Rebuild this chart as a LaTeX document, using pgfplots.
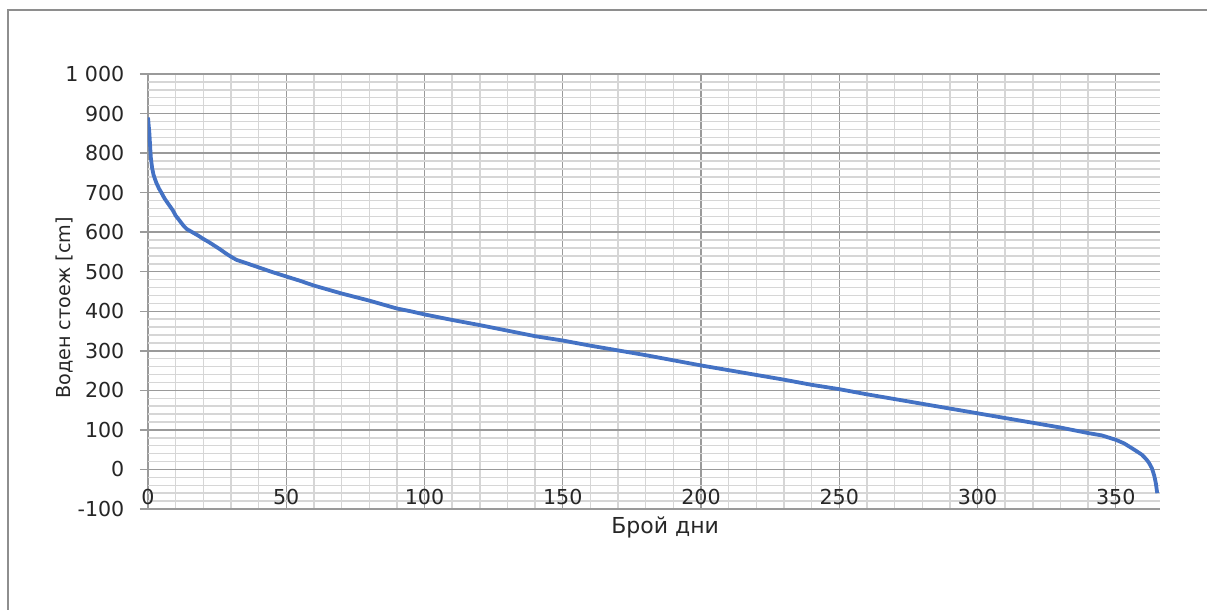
\documentclass[border=0pt]{standalone}
\usepackage{fontspec}
\setmainfont{DejaVu Sans}
\usepackage{pgfplots}
\pgfplotsset{compat=1.18}
\definecolor{exblue}{HTML}{4472C4}
\definecolor{majgrid}{HTML}{9A9A9A}
\definecolor{mingrid}{HTML}{D6D6D6}
\definecolor{frame}{HTML}{8E8E8E}
\pgfplotstableread{
x y
0 890
0.5 850
1 790
1.5 762
2 745
3 725
4 710
5 698
6 685
7 675
8 665
9 655
10 642
11 633
12 624
13 615
14 608
16 600
18 592
20 583
22 575
24 566
26 557
28 547
30 538
32 530
35 523
40 511
45 499
50 488
55 477
60 465
65 455
70 445
75 436
80 427
85 417
90 407
95 400
100 392
110 378
120 365
130 351
140 337
150 326
160 313
170 301
180 289
190 276
200 263
210 251
220 239
230 227
240 214
250 203
260 190
270 178
280 166
290 154
300 142
310 130
320 118
330 106
335 99
340 92
345 86
350 75
353 66
356 53
358 44
359.5 37
361 26
362 17
363 4
363.5 -6
364 -18
364.5 -35
365 -60
}\datatable
\begin{document}
\begin{tikzpicture}
\path[use as bounding box] (0,0) rectangle (603.5pt,305pt);
\draw[frame, line width=0.75pt] (4pt,-20pt) -- (4pt,300pt) -- (640pt,300pt);
\begin{axis}[
  at={(74pt,50.5pt)}, anchor=south west,
  scale only axis, width=506pt, height=217.5pt,
  xmin=0, xmax=366, ymin=-100, ymax=1000,
  xtick={0,50,...,350}, ytick={-100,0,...,1000},
  minor x tick num=4, minor y tick num=4,
  grid=both,
  major grid style={majgrid, line width=0.7pt},
  minor grid style={mingrid, line width=0.7pt},
  axis line style={draw=none},
  tick align=outside,
  ytick pos=left, xtick pos=left,
  major tick length=4pt, minor tick length=0pt,
  xtick style={draw=none},
  ytick style={majgrid, line width=0.7pt},
  minor tick style={draw=none},
  ticklabel style={font=\fontsize{10.3}{12}\selectfont, text=black!85},
  /pgf/number format/.cd, 1000 sep={\ }, assume math mode=true,
  /pgfplots/.cd,
  xticklabel style={anchor=south, yshift=2.5pt},
  yticklabel style={anchor=east, xshift=-4.3pt},
  xlabel={Брой дни},
  ylabel={Воден стоеж [cm]},
  xlabel style={font=\fontsize{11}{13}\selectfont, text=black!85, at={(axis description cs:0.511,-0.0552)}, anchor=base},
  ylabel style={font=\fontsize{9.6}{12}\selectfont, text=black!85, at={(axis description cs:-0.082,0.462)}, anchor=center},
]
\addplot[exblue, line width=1.9pt, line join=round] table[x=x,y=y] {\datatable};
\end{axis}
\end{tikzpicture}
\end{document}
